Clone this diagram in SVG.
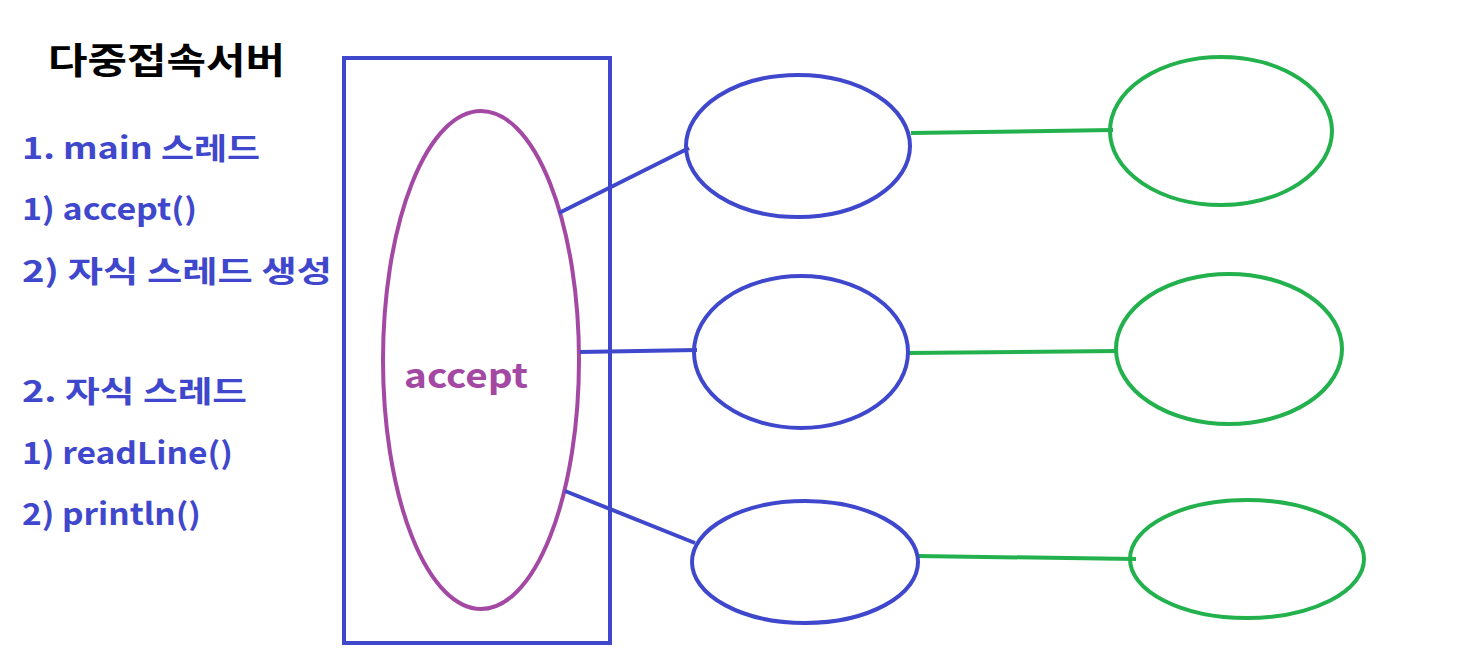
<svg xmlns="http://www.w3.org/2000/svg" width="1471" height="668" viewBox="0 0 1471 668">
<style>
.t{font-family:"Noto Sans CJK KR","Noto Sans",sans-serif;font-weight:bold;fill:#3f48cc;font-size:30px}
.b{fill:none;stroke:#3f48cc;stroke-width:4}
.p{fill:none;stroke:#a349a4;stroke-width:4}
.g{fill:none;stroke:#22b14c;stroke-width:4}
</style>
<rect width="1471" height="668" fill="#fff"/>
<g id="notes">
<text x="48" y="74" textLength="237" lengthAdjust="spacingAndGlyphs" style="font-family:'Noto Sans CJK KR',sans-serif;font-weight:bold;font-size:36px;fill:#000">다중접속서버</text>
<text class="t" x="22" y="159" textLength="238" lengthAdjust="spacingAndGlyphs">1. main 스레드</text>
<text class="t" x="22" y="220" textLength="175" lengthAdjust="spacingAndGlyphs">1) accept()</text>
<text class="t" x="22" y="282" textLength="310" lengthAdjust="spacingAndGlyphs">2) 자식 스레드 생성</text>
<text class="t" x="22" y="402" textLength="225" lengthAdjust="spacingAndGlyphs">2. 자식 스레드</text>
<text class="t" x="22" y="464" textLength="211" lengthAdjust="spacingAndGlyphs">1) readLine()</text>
<text class="t" x="22" y="525" textLength="179" lengthAdjust="spacingAndGlyphs">2) println()</text>
</g>
<g id="server">
<rect class="b" x="344" y="58" width="266" height="585"/>
</g>
<g id="accept">
<ellipse class="p" cx="481" cy="360" rx="98" ry="249"/>
<text x="404" y="388" textLength="124" lengthAdjust="spacingAndGlyphs" style="font-family:'Noto Sans CJK KR',sans-serif;font-weight:bold;font-size:34px;fill:#a349a4">accept</text>
</g>
<g id="connectors">
<line class="b" x1="559" y1="213" x2="689" y2="148"/>
<line class="b" x1="580" y1="352" x2="697" y2="350"/>
<line class="b" x1="565" y1="491" x2="695" y2="543"/>
<line class="g" x1="911" y1="133" x2="1113" y2="130"/>
<line class="g" x1="907" y1="353" x2="1118" y2="351"/>
<line class="g" x1="917" y1="556" x2="1136" y2="559"/>
</g>
<g id="thread1"><ellipse class="b" cx="798" cy="146" rx="112" ry="71"/></g>
<g id="thread2"><ellipse class="b" cx="801" cy="352" rx="107" ry="76"/></g>
<g id="thread3"><ellipse class="b" cx="805" cy="562" rx="113" ry="61"/></g>
<g id="client1"><ellipse class="g" cx="1221" cy="131" rx="111" ry="74"/></g>
<g id="client2"><ellipse class="g" cx="1229" cy="349" rx="113" ry="75"/></g>
<g id="client3"><ellipse class="g" cx="1247" cy="559" rx="117" ry="59"/></g>
</svg>
